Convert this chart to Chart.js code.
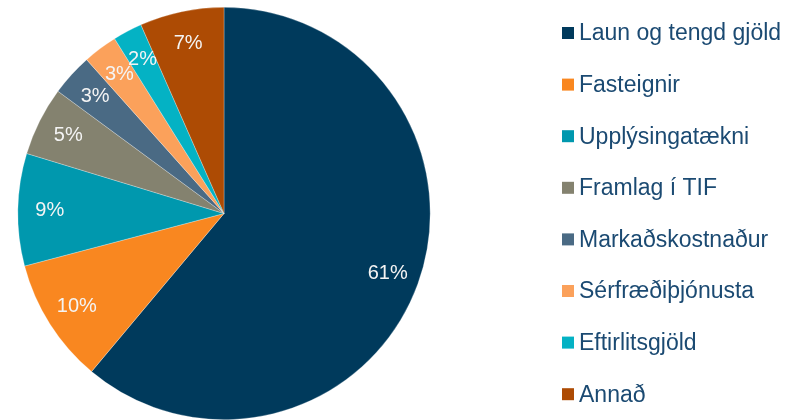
<!DOCTYPE html>
<html>
<head>
<meta charset="utf-8">
<script src="https://cdn.jsdelivr.net/npm/chart.js@4"></script>
<style>
  html, body { margin: 0; padding: 0; background: #fff; }
  #wrap { width: 797px; height: 420px; }
</style>
</head>
<body>
<div id="wrap"><canvas id="pie"></canvas></div>
<script>
// flokkar og hlutföll (%)
const flokkar = ['Laun og tengd gjöld', 'Fasteignir', 'Upplýsingatækni', 'Framlag í TIF',
    'Markaðskostnaður', 'Sérfræðiþjónusta', 'Eftirlitsgjöld', 'Annað'];
const hlutfall = [61.1, 9.8, 8.8, 5.4, 3.3, 2.7, 2.3, 6.6];
const litir = ['#003a5c', '#f98720', '#0098ae', '#84826f', '#4a6a84', '#fba15b', '#04b2c4', '#ad4b04'];

const textLitur = '#1b4a72';

/* prósentur inni í sneiðum */
const merkingar = {
    id: 'merkingar',
    afterDatasetsDraw(chart) {
        const ctx = chart.ctx;
        const meta = chart.getDatasetMeta(0);
        ctx.save();
        ctx.font = '20px "Liberation Sans", Arial, sans-serif';
        ctx.fillStyle = '#f4f4f4';
        ctx.textAlign = 'center';
        ctx.textBaseline = 'middle';
        meta.data.forEach((arc, i) => {
            const p = arc.getProps(['x', 'y', 'startAngle', 'endAngle', 'outerRadius'], true);
            const mid = (p.startAngle + p.endAngle) / 2;
            const r = p.outerRadius * 0.845;
            ctx.fillText(Math.round(hlutfall[i]) + '%', p.x + Math.cos(mid) * r, p.y + Math.sin(mid) * r);
        });
        ctx.restore();
    }
};

/* skýringar til hægri */
const skyringar = {
    id: 'skyringar',
    afterDraw(chart) {
        const ctx = chart.ctx;
        ctx.save();
        ctx.font = '23px "Liberation Sans", Arial, sans-serif';
        ctx.textBaseline = 'middle';
        for (let i = 0; i < flokkar.length; i++) {
            let y = 33 + i * 51.6;
            ctx.fillStyle = litir[i];
            ctx.fillRect(562, y - 6, 12, 12);
            ctx.fillStyle = textLitur;
            ctx.fillText(flokkar[i], 579, y + 1);
        }
        ctx.restore();
    }
};

const kaka = new Chart(document.getElementById('pie'), {
    type: 'pie',
    data: {
        labels: flokkar,
        datasets: [{
            data: hlutfall,
            backgroundColor: litir,
            borderColor: 'rgba(255,255,255,0.45)',
            borderWidth: 0.6
        }]
    },
    options: {
        responsive: true,
        maintainAspectRatio: false,
        animation: false,
        layout: { padding: { left: 17, top: 7, right: 366, bottom: -1 } },
        plugins: {
            legend: { display: false },
            tooltip: { enabled: false }
        }
    },
    plugins: [merkingar, skyringar]
});
</script>
</body>
</html>
